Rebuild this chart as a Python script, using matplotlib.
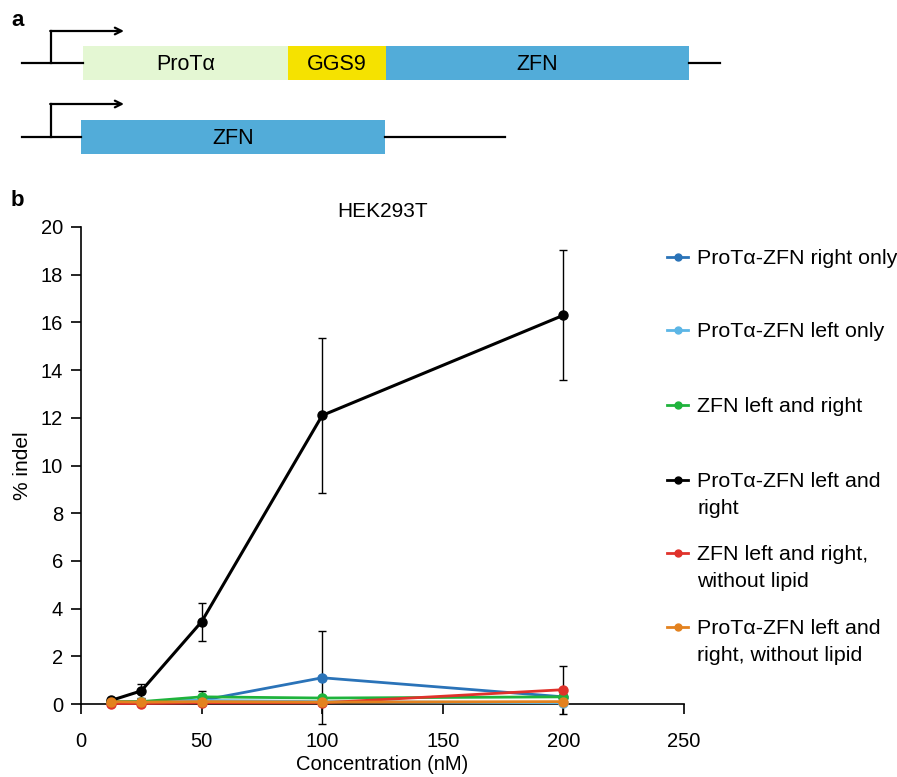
import matplotlib
matplotlib.use("Agg")
import matplotlib.pyplot as plt
from matplotlib.patches import Rectangle
from matplotlib.lines import Line2D

plt.rcParams['font.family'] = ['Liberation Sans', 'DejaVu Sans']

W, H = 897, 777

# ---------------- data ----------------
concentration = [12.5, 25, 50, 100, 200]
series_labels = [
    "ProT\u03b1-ZFN right only",
    "ProT\u03b1-ZFN left only",
    "ZFN left and right",
    "ProT\u03b1-ZFN left and\nright",
    "ZFN left and right,\nwithout lipid",
    "ProT\u03b1-ZFN left and\nright, without lipid",
]
right_only = [0.1, 0.1, 0.15, 1.1, 0.3]
right_only_err = [0.0, 0.0, 0.0, 1.95, 0.0]
left_only = [0.1, 0.1, 0.15, 0.1, 0.05]
left_only_err = [0.0, 0.0, 0.0, 0.0, 0.0]
zfn_lr = [0.1, 0.1, 0.3, 0.25, 0.3]
zfn_lr_err = [0.0, 0.0, 0.25, 0.0, 0.0]
protza_lr = [0.15, 0.55, 3.45, 12.1, 16.3]
protza_lr_err = [0.0, 0.3, 0.8, 3.25, 2.72]
zfn_nolipid = [0.02, 0.02, 0.05, 0.05, 0.6]
zfn_nolipid_err = [0.0, 0.0, 0.0, 0.0, 1.0]
prot_nolipid = [0.1, 0.08, 0.1, 0.08, 0.1]
prot_nolipid_err = [0.0, 0.0, 0.0, 0.0, 0.0]

values = [right_only, left_only, zfn_lr, protza_lr, zfn_nolipid, prot_nolipid]
errors = [right_only_err, left_only_err, zfn_lr_err, protza_lr_err, zfn_nolipid_err, prot_nolipid_err]
colors = ["#2a73b8", "#5cb6e6", "#1fb33c", "#000000", "#e0322b", "#e3821f"]

x_ticks = [0, 50, 100, 150, 200, 250]
y_ticks = [0, 2, 4, 6, 8, 10, 12, 14, 16, 18, 20]

# diagram parts (text, colour)
construct1 = [("ProT\u03b1", "#e4f7d3"), ("GGS9", "#f5e200"), ("ZFN", "#52acd9")]
construct2 = [("ZFN", "#52acd9")]

fig = plt.figure(figsize=(W / 100, H / 100), dpi=100)

def fx(x):
    return x / W

def fy(y):
    return 1 - y / H

# ---------------- panel a (diagram) ----------------
da = fig.add_axes([0, 0, 1, 1])
da.set_xlim(0, W)
da.set_ylim(H, 0)
da.axis("off")

def draw_construct(parts, edges, y0, y1, line_left, line_right, prom_x, prom_top):
    yc = (y0 + y1) / 2
    da.plot([line_left, edges[0]], [yc, yc], color="black", lw=1.6)
    da.plot([edges[-1], line_right], [yc, yc], color="black", lw=1.6)
    for (txt, col), a, b in zip(parts, edges[:-1], edges[1:]):
        da.add_patch(Rectangle((a, y0), b - a, y1 - y0, facecolor=col, edgecolor="none"))
        da.text((a + b) / 2, yc + 1, txt, ha="center", va="center", fontsize=15.5)
    da.plot([prom_x, prom_x], [yc, prom_top], color="black", lw=1.6)
    da.annotate("", xy=(124, prom_top), xytext=(prom_x - 0.8, prom_top),
                arrowprops=dict(arrowstyle="->", color="black", lw=1.6,
                                shrinkA=0, shrinkB=0, mutation_scale=12))

draw_construct(construct1, [83, 288, 386, 689], 46, 80, 22, 720, 51, 31)
draw_construct(construct2, [81, 385], 120, 154, 22, 505, 51, 104)

fig.text(fx(11), fy(21), "a", fontsize=16, fontweight="bold", va="center")
fig.text(fx(11), fy(200), "b", fontsize=16, fontweight="bold", va="center")

# ---------------- panel b (chart) ----------------
left, right, top, bottom = 81, 684, 227, 704
ax = fig.add_axes([fx(left), fy(bottom), fx(right) - fx(left), fy(top) - fy(bottom)])
ax.set_xlim(0, 250)
ax.set_ylim(0, 20)
for vals, errs, col in zip(values, errors, colors):
    ax.errorbar(concentration, vals, yerr=errs, color=col, lw=2.2 if col == "#000000" else 2.0,
                marker="o", ms=6.5, ecolor="black", elinewidth=1.0, capsize=3, capthick=1.0,
                clip_on=False, zorder=3)
for s in ["top", "right"]:
    ax.spines[s].set_visible(False)
ax.spines["left"].set_linewidth(1.2)
ax.spines["bottom"].set_linewidth(1.2)
ax.set_xticks(x_ticks)
ax.set_yticks(y_ticks)
ax.tick_params(axis="both", direction="out", length=7, width=1.2, labelsize=14.5)
ax.tick_params(axis="x", pad=13)
ax.tick_params(axis="y", pad=6)
ax.set_xlabel("Concentration (nM)", fontsize=14.5, labelpad=3)
ax.set_ylabel("% indel", fontsize=15, labelpad=6)
ax.set_title("HEK293T", fontsize=15, pad=7)

# legend drawn manually (Excel-style spacing)
legend_y = [257, 330, 405, 480, 553, 627]
for lab, col, ly in zip(series_labels, colors, legend_y):
    fig.add_artist(Line2D([fx(667), fx(688)], [fy(ly), fy(ly)], color=col, lw=2))
    fig.add_artist(Line2D([fx(677.5)], [fy(ly)], color=col, marker="o", ms=5))
    fig.text(fx(697), fy(ly - 8), lab, fontsize=15.4, ha="left",
             va="top", linespacing=1.55)

fig.savefig("out.png", dpi=100)
